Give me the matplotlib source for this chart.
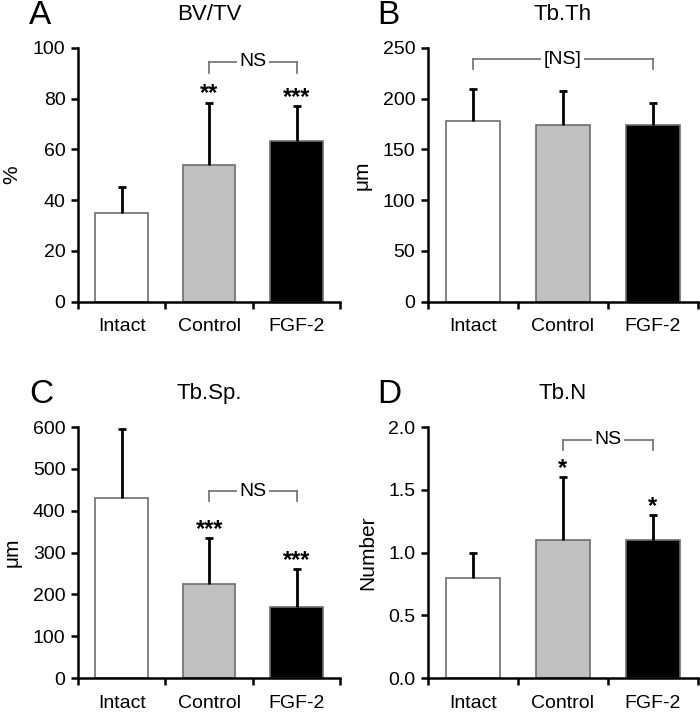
import matplotlib.pyplot as plt

plt.rcParams['font.family'] = ['Liberation Sans', 'DejaVu Sans']

# datos
grupos = ["Intact", "Control", "FGF-2"]
colores = ["white", "#c0c0c0", "black"]

bvtv = [35, 54, 63.5]
bvtv_err = [10, 24.5, 13.5]
tbth = [178, 174, 174]
tbth_err = [32, 34, 22]
tbsp = [430, 224, 170]
tbsp_err = [165, 111, 90]
tbn = [0.8, 1.1, 1.1]
tbn_err = [0.2, 0.5, 0.2]

paneles = [
    # letra, titulo, ylabel, valores, errores, ymax, paso, estrellas, bracket
    ("A", "BV/TV", "%", bvtv, bvtv_err, 100, 20, ["", "**", "***"], ([1, 2], 94.5, 90, "NS"), "{:.0f}"),
    ("B", "Tb.Th", "μm", tbth, tbth_err, 250, 50, ["", "", ""], ([0, 1, 2], 239, 229, "[NS]"), "{:.0f}"),
    ("C", "Tb.Sp.", "μm", tbsp, tbsp_err, 600, 100, ["", "***", "***"], ([1, 2], 447, 423, "NS"), "{:.0f}"),
    ("D", "Tb.N", "Number", tbn, tbn_err, 2.0, 0.5, ["", "*", "*"], ([1, 2], 1.9, 1.82, "NS"), "{:.1f}"),
]

posiciones = [
    [0.1114, 0.577, 0.375, 0.3557],
    [0.611, 0.577, 0.386, 0.3557],
    [0.1114, 0.049, 0.375, 0.352],
    [0.611, 0.049, 0.386, 0.352],
]

fig = plt.figure(figsize=(7, 7.13), dpi=100)

for (letra, titulo, ylab, vals, errs, ymax, paso, estrellas, bracket, fmt), pos in zip(paneles, posiciones):
    ax = fig.add_axes(pos)
    x = range(len(grupos))
    ax.bar(x, vals, width=0.6, color=colores, edgecolor="#6e6e6e", linewidth=1.2, zorder=2)
    eb = ax.errorbar(x, vals, yerr=[[0] * 3, errs], fmt="none", ecolor="black",
                     elinewidth=2, capsize=3, capthick=2, zorder=3)
    # sólo la barra de error superior
    eb[1][0].set_visible(False)

    ax.set_xlim(-0.5, 2.5)
    ax.set_ylim(0, ymax)
    ticks = [i * paso for i in range(int(round(ymax / paso)) + 1)]
    ax.set_yticks(ticks)
    ax.set_yticklabels([fmt.format(t) for t in ticks], fontsize=14)
    ax.set_xticks([-0.5, 0.5, 1.5, 2.5])
    ax.set_xticklabels([])
    ax.set_xticks([0, 1, 2], minor=True)
    ax.set_xticklabels(grupos, minor=True, fontsize=14)
    ax.tick_params(axis="x", which="minor", length=0, pad=12)
    ax.tick_params(axis="x", which="major", length=5, width=1.8, direction="out")
    ax.tick_params(axis="y", length=5, width=1.8, direction="out", pad=4)
    for s in ["top", "right"]:
        ax.spines[s].set_visible(False)
    for s in ["left", "bottom"]:
        ax.spines[s].set_linewidth(1.8)

    ax.set_ylabel(ylab, fontsize=15, labelpad=8)
    ax.set_title(titulo, fontsize=16, pad=20)
    ax.text(-0.185, 1.13, letra, transform=ax.transAxes, fontsize=24, va="center", ha="left")

    for i, e in enumerate(estrellas):
        if e:
            ax.annotate(e, (i, vals[i] + errs[i]), xytext=(0, 1.5), textcoords="offset points",
                        ha="center", va="baseline", fontsize=17, fontweight="bold")

    xs, ytop, ybot, txt = bracket
    gris = "#6e6e6e"
    ax.plot([xs[0], xs[-1]], [ytop, ytop], color=gris, lw=1.2, clip_on=False)
    for xx in xs:
        ax.plot([xx, xx], [ytop, ybot], color=gris, lw=1.2, clip_on=False)
    ax.text((xs[0] + xs[-1]) / 2, ytop, txt, ha="center", va="center", fontsize=14,
            bbox=dict(facecolor="white", edgecolor="none", pad=2), zorder=4, clip_on=False)

fig.savefig("out.png", dpi=100)
